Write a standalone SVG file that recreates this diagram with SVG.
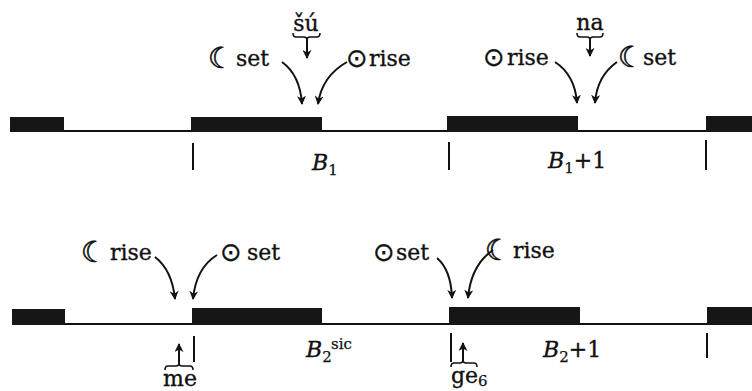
<svg xmlns="http://www.w3.org/2000/svg" width="752" height="391" viewBox="0 0 752 391">
<style>
.t{font-family:"DejaVu Serif","Liberation Serif",serif;font-size:22px;fill:#111;stroke:#111;stroke-width:0.35}
.m{font-family:"DejaVu Sans","DejaVu Serif",sans-serif;font-size:29px;fill:#111;stroke:#111;stroke-width:0.6}
.s{font-family:"DejaVu Sans","DejaVu Serif",sans-serif;font-size:26px;fill:#111;stroke:#111;stroke-width:0.3}
.i{font-family:"DejaVu Serif","Liberation Serif",serif;font-style:italic;font-size:22px;fill:#111;stroke:#111;stroke-width:0.35}
.sub{font-family:"DejaVu Serif","Liberation Serif",serif;font-size:15px;fill:#111;stroke:#111;stroke-width:0.25}
.bar{fill:#161616}
.ln{stroke:#111;stroke-width:2;fill:none}
.tk{stroke:#111;stroke-width:2}
.ar{stroke:#111;stroke-width:2;fill:none;marker-end:url(#ah)}
.br{stroke:#111;stroke-width:1.6;fill:none}
</style>
<defs>
<marker id="ah" viewBox="0 0 10 10" refX="9" refY="5" markerWidth="9" markerHeight="9" markerUnits="userSpaceOnUse" orient="auto">
<path d="M0,0 L10,5 L0,10 L3,5 Z" fill="#111"/>
</marker>
</defs>
<g id="timeline-top">
<line class="ln" x1="10" y1="131" x2="752" y2="131"/>
<rect class="bar" x="10" y="117" width="54" height="15"/>
<rect class="bar" x="191" y="117" width="131" height="15"/>
<rect class="bar" x="447" y="116" width="131" height="16"/>
<rect class="bar" x="706" y="116" width="46" height="16"/>
<line class="tk" x1="193" y1="143" x2="193" y2="170"/>
<line class="tk" x1="449" y1="142" x2="449" y2="170"/>
<line class="tk" x1="706" y1="140" x2="706" y2="170"/>
</g>
<g id="timeline-bottom">
<line class="ln" x1="12" y1="324" x2="752" y2="324"/>
<rect class="bar" x="12" y="309" width="53" height="16"/>
<rect class="bar" x="192" y="308" width="130" height="17"/>
<rect class="bar" x="449" y="307" width="131" height="17"/>
<rect class="bar" x="707" y="307" width="45" height="17"/>
<line class="tk" x1="194" y1="336" x2="194" y2="362"/>
<line class="tk" x1="451" y1="333" x2="451" y2="362"/>
<line class="tk" x1="707" y1="333" x2="707" y2="358"/>
</g>
<g id="labels-top">
<text class="m" x="208" y="68">☾</text><text class="t" x="236" y="66">set</text>
<text class="s" x="346" y="67">⊙</text><text class="t" x="369" y="66">rise</text>
<text class="t" x="306" y="31" text-anchor="middle">šú</text>
<text class="s" x="483" y="66">⊙</text><text class="t" x="507" y="65">rise</text>
<text class="m" x="618" y="67">☾</text><text class="t" x="643" y="65">set</text>
<text class="t" x="590" y="30" text-anchor="middle">na</text>
<text class="i" x="312" y="170">B<tspan class="sub" font-style="normal" dy="5">1</tspan></text>
<text class="i" x="548" y="168">B<tspan class="sub" font-style="normal" dy="5">1</tspan><tspan class="t" font-style="normal" dy="-5">+1</tspan></text>
</g>
<g id="labels-bottom">
<text class="m" x="81" y="262">☾</text><text class="t" x="110" y="260">rise</text>
<text class="s" x="220" y="261">⊙</text><text class="t" x="247" y="260">set</text>
<text class="s" x="373" y="261">⊙</text><text class="t" x="396" y="260">set</text>
<text class="m" x="485" y="260">☾</text><text class="t" x="513" y="258">rise</text>
<text class="i" x="306" y="357">B<tspan class="sub" font-style="normal" dy="5">2</tspan></text>
<text class="sub" x="331" y="349">sic</text>
<text class="i" x="543" y="357">B<tspan class="sub" font-style="normal" dy="5">2</tspan><tspan class="t" font-style="normal" dy="-5">+1</tspan></text>
<text class="t" x="180" y="386" text-anchor="middle">me</text>
<text class="t" x="451" y="383">ge<tspan class="sub" dy="3">6</tspan></text>
</g>
<g id="connectors">
<path class="ar" d="M282,62 Q300,75 302,104"/>
<path class="ar" d="M347,62 Q322,76 318,104"/>
<path class="ar" d="M555,62 Q575,75 577,103"/>
<path class="ar" d="M617,62 Q597,76 595,103"/>
<path class="ar" d="M155,257 Q172,270 175,299"/>
<path class="ar" d="M217,255 Q196,268 193,299"/>
<path class="ar" d="M437,258 Q451,270 452,298"/>
<path class="ar" d="M493,250 Q471,265 468,298"/>
<path class="ar" d="M307,40 L307,58"/>
<path class="ar" d="M590,40 L590,56"/>
<path class="ar" d="M179,363 L179,344"/>
<path class="ar" d="M463,362 L463,343"/>
<path class="br" d="M293,33 Q293,37 296,37 L304,37 Q307,37 307,40 Q307,37 310,37 L317,37 Q320,37 320,33"/>
<path class="br" d="M577,33 Q577,37 580,37 L587,37 Q590,37 590,40 Q590,37 593,37 L600,37 Q603,37 603,33"/>
<path class="br" d="M165,370 Q165,366 168,366 L176,366 Q179,366 179,363 Q179,366 182,366 L190,366 Q193,366 193,370"/>
<path class="br" d="M451,367 Q451,363 454,363 L460,363 Q463,363 463,360 Q463,363 466,363 L474,363 Q477,363 477,367"/>
</g>
</svg>
